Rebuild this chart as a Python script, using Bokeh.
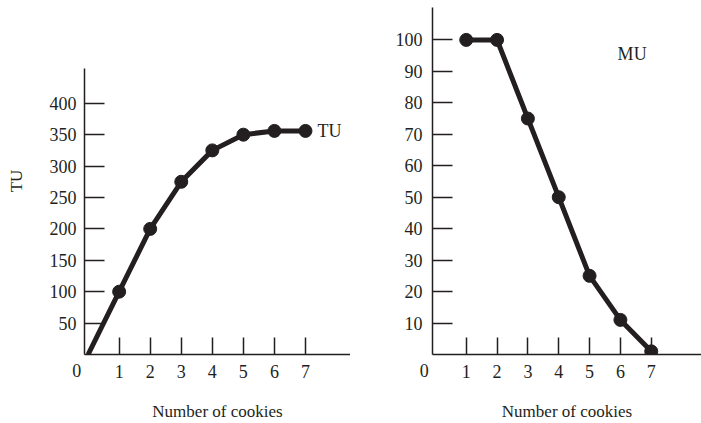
from bokeh.plotting import figure
from bokeh.layouts import row
from bokeh.models import FixedTicker, Range1d, LinearAxis
from bokeh.core.properties import value
from bokeh.embed import file_html
from bokeh.resources import INLINE

cookies = [0, 1, 2, 3, 4, 5, 6, 7]
tu = [0, 100, 200, 275, 325, 350, 356, 356]
mu_cookies = [1, 2, 3, 4, 5, 6, 7]
mu = [100, 100, 75, 50, 25, 11, 1]
tu_ticks = [50, 100, 150, 200, 250, 300, 350, 400]
mu_ticks = [10, 20, 30, 40, 50, 60, 70, 80, 90, 100]
x_ticks = [1, 2, 3, 4, 5, 6, 7]
origin_tick = [0]

INK = "#231f20"
FONT = "Liberation Serif"
FS = "18px"
FS_LAB = "17px"
NBSP = "\u00a0"


def base_axis(ax):
    ax.axis_line_color = INK
    ax.axis_line_width = 1.5
    ax.major_tick_line_color = INK
    ax.major_tick_line_width = 1.5
    ax.minor_tick_line_color = None
    ax.major_tick_out = 0
    ax.major_label_text_font = FONT
    ax.major_label_text_font_size = FS
    ax.major_label_text_color = INK
    ax.axis_label_text_font = FONT
    ax.axis_label_text_font_size = FS_LAB
    ax.axis_label_text_font_style = "normal"
    ax.axis_label_text_color = INK


def style(p, yticks, ylabel, ystand):
    p.outline_line_color = None
    p.grid.visible = False
    p.background_fill_color = "white"
    p.border_fill_color = "white"
    base_axis(p.xaxis[0])
    base_axis(p.yaxis[0])
    xa = p.xaxis[0]
    xa.ticker = FixedTicker(ticks=x_ticks)
    xa.major_tick_in = 17
    xa.major_label_standoff = 10
    p.yaxis[0].ticker = FixedTicker(ticks=yticks)
    p.yaxis[0].major_tick_in = 20
    p.yaxis[0].major_label_standoff = ystand
    if ylabel:
        p.yaxis[0].axis_label = ylabel
        p.yaxis[0].axis_label_standoff = 21
    # second (label-only) axis: the corner "0" and the axis title
    xb = LinearAxis(ticker=FixedTicker(ticks=origin_tick))
    base_axis(xb)
    xb.axis_line_color = None
    xb.major_tick_line_color = None
    xb.major_tick_in = 0
    xb.major_label_overrides = {0: "0" + NBSP * 5}
    xb.major_label_standoff = -20
    xb.axis_label = "Number of cookies"
    xb.axis_label_standoff = 18
    p.add_layout(xb, "below")


# Left: total utility
p1 = figure(width=350, height=423, output_backend="svg", toolbar_location=None,
            x_range=Range1d(-0.116, 8.45), y_range=Range1d(0, 552.5),
            min_border_left=84, min_border_right=0, min_border_top=7,
            min_border_bottom=69)
style(p1, tu_ticks, "TU", 8)
p1.yaxis[0].bounds = (0, 455)
p1.line(cookies, tu, line_color=INK, line_width=5, line_join="round")
p1.scatter(cookies[1:], tu[1:], size=13, color=INK)
p1.text(x=[cookies[-1]], y=[tu[-1]], text=["TU"], x_offset=12,
        text_baseline="middle", text_align="left", text_font=value(FONT),
        text_font_size=FS, text_color=INK)

# Right: marginal utility
p2 = figure(width=351, height=423, output_backend="svg", toolbar_location=None,
            x_range=Range1d(-0.094, 8.63), y_range=Range1d(0, 110.3),
            min_border_left=82, min_border_right=0, min_border_top=7,
            min_border_bottom=69)
style(p2, mu_ticks, "", 10)
p2.line(mu_cookies, mu, line_color=INK, line_width=5, line_join="round")
p2.scatter(mu_cookies, mu, size=13, color=INK)
p2.text(x=[6.38], y=[95.6], text=["MU"], text_baseline="middle",
        text_align="center", text_font=value(FONT), text_font_size=FS,
        text_color=INK)

layout = row(p1, p2)
open("out.html", "w").write(file_html(layout, INLINE))
